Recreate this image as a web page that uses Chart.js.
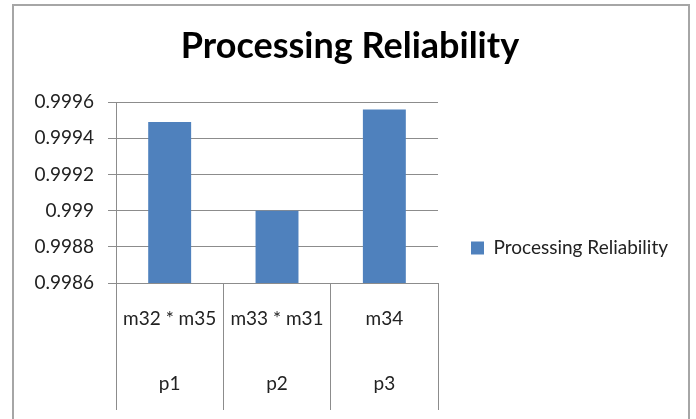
<!DOCTYPE html>
<html>
<head>
<meta charset="utf-8">
<script src="https://cdn.jsdelivr.net/npm/chart.js@4/dist/chart.umd.min.js"></script>
<style>
  html, body { margin: 0; padding: 0; background: #fff; overflow: hidden; width: 696px; height: 419px; }
  #wrap { position: relative; width: 696px; height: 419px; }
  #frame { position: absolute; left: 12px; top: 4px; width: 678px; height: 440px; border: 2px solid #a6a6a6; box-sizing: border-box; }
  canvas { position: absolute; left: 0; top: 0; }
</style>
</head>
<body>
<div id="wrap">
  <div id="frame"></div>
  <canvas id="chart" width="696" height="496"></canvas>
</div>
<script>
// gegevens uit de grafiek
const groups = ["m32 * m35", "m33 * m31", "m34"];
const processes = ["p1", "p2", "p3"];
const reliability = [0.99949, 0.99900, 0.99956];
const yTicks = [0.9986, 0.9988, 0.999, 0.9992, 0.9994, 0.9996];
const seriesName = "Processing Reliability";

const labels = groups.map((g, i) => [g, "", processes[i]]);
const gridColor = '#8c8c8c';
const fontName = 'Lato';

const ctx = document.getElementById("chart").getContext("2d");
new Chart(ctx, {
    type: "bar",
    data: {
        labels: labels,
        datasets: [{
            label: seriesName,
            data: reliability,
            backgroundColor: '#4f81bd',
            borderWidth: 0,
            barPercentage: 0.4,
            categoryPercentage: 1.0
        }]
    },
    options: {
        responsive: false,
        animation: false,
        layout: { padding: { left: 22, right: 18, top: 0, bottom: 0 } },
        plugins: {
            title: {
                display: true,
                text: "Processing Reliability",
                color: '#000',
                font: { family: fontName, size: 36, weight: 'bold' },
                padding: { top: 25, bottom: 34 }
            },
            legend: {
                position: 'right',
                maxWidth: 320,
                labels: {
                    boxWidth: 13,
                    boxHeight: 13,
                    padding: 33,
                    color: '#222',
                    font: { family: fontName, size: 19 }
                }
            },
            tooltip: { enabled: false }
        },
        scales: {
            x: {
                grid: {
                    offset: true,
                    drawOnChartArea: false,
                    drawTicks: true,
                    tickLength: 127,
                    color: gridColor,
                    lineWidth: 1
                },
                border: { color: gridColor },
                ticks: {
                    color: '#222',
                    padding: -107,
                    maxRotation: 0,
                    autoSkip: false,
                    font: { family: fontName, size: 19, lineHeight: 1.71 }
                },
                afterFit(scale) { scale.height = 213; }
            },
            y: {
                min: 0.9986,
                max: 0.9996,
                afterBuildTicks(scale) {
                    scale.ticks = yTicks.map(v => ({ value: v }));
                },
                grid: {
                    color: gridColor,
                    tickLength: 8
                },
                border: { color: gridColor },
                ticks: {
                    color: '#222',
                    padding: 14,
                    font: { family: fontName, size: 19 },
                    callback: (value) => String(parseFloat(value.toFixed(4)))
                },
                afterFit(scale) { scale.width = 94; }
            }
        }
    }
});
</script>
</body>
</html>
